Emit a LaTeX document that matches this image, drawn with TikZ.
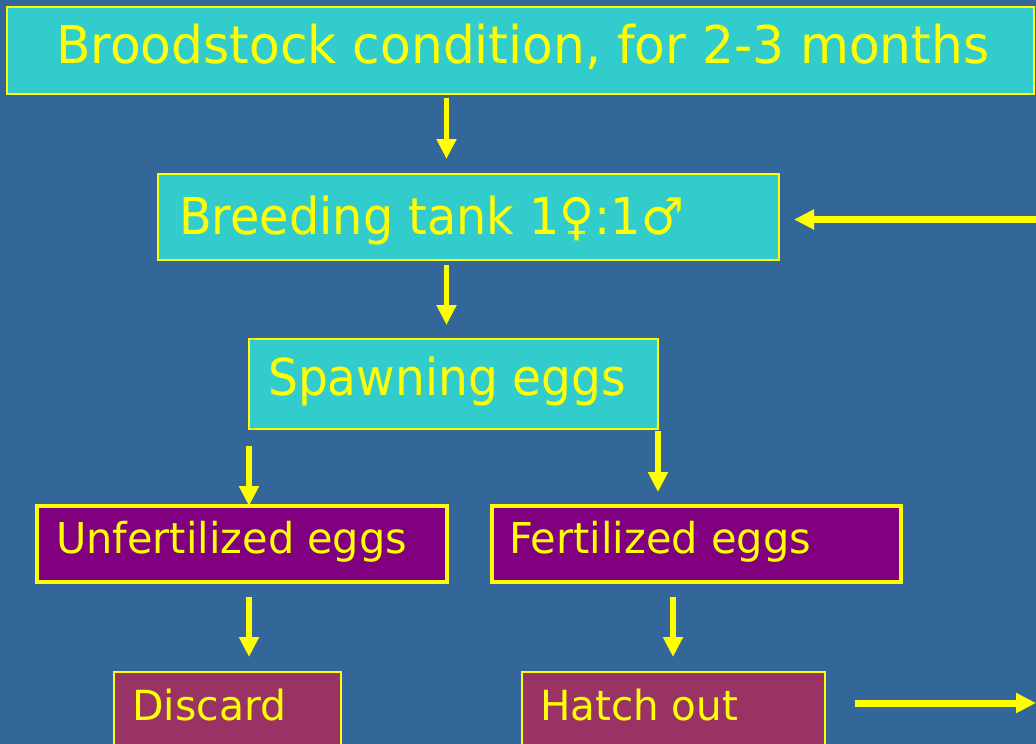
\documentclass[tikz,border=0pt]{standalone}
\usepackage{fontspec}
\setmainfont{DejaVu Sans}
\usepackage{graphicx}
\usetikzlibrary{arrows.meta}
\definecolor{bgblue}{HTML}{336699}
\definecolor{cyanbox}{HTML}{33CCCC}
\definecolor{purplebox}{HTML}{800080}
\definecolor{winebox}{HTML}{993366}
\definecolor{yel}{HTML}{FFFF00}
\newcommand{\fittext}[3]{\resizebox{#1}{\height}{\fontsize{#2pt}{#2pt}\selectfont #3}}
\begin{document}
\begin{tikzpicture}[x=1pt,y=-1pt,
  boxshape/.style={draw=yel, line width=2.5pt, inner sep=0pt, outer sep=0pt, anchor=north west},
  cyanfill/.style={boxshape, fill=cyanbox},
  purplefill/.style={boxshape, line width=4pt, fill=purplebox},
  winefill/.style={boxshape, fill=winebox},
  label text/.style={text=yel, inner sep=0pt, anchor=base west},
  arr/.style={draw=yel, line width=5.5pt, -{Triangle[length=20pt 0 0,width=19pt 0 0]}}]
\clip (0,0) rectangle (1036,744);
\useasboundingbox (0,0) rectangle (1036,744);
\fill[bgblue] (0,0) rectangle (1036,744);

% boxes
\node[cyanfill, minimum width=1027pt, minimum height=87pt] (b1) at (7,7) {};
\node[cyanfill, minimum width=621pt, minimum height=86pt] (b2) at (158,174) {};
\node[cyanfill, minimum width=409pt, minimum height=90pt] (b3) at (249,339) {};
\node[purplefill, minimum width=410pt, minimum height=76pt] (b4) at (37,506) {};
\node[purplefill, minimum width=409pt, minimum height=76pt] (b5) at (492,506) {};
\node[winefill, minimum width=227pt, minimum height=90pt] (b6) at (114,672) {};
\node[winefill, minimum width=303pt, minimum height=90pt] (b7) at (522,672) {};

% texts
\node[label text] (t1) at (56,63) {\fittext{933pt}{52}{Broodstock condition, for 2-3 months}};
\node[label text] (t2) at (179,234) {\fittext{505pt}{50.8}{Breeding tank 1♀:1♂}};
\node[label text] (t3) at (268,395) {\fittext{358pt}{50.8}{Spawning eggs}};
\node[label text] (t4) at (56,553) {\fittext{351pt}{42.5}{Unfertilized eggs}};
\node[label text] (t5) at (509,553) {\fittext{302pt}{42.5}{Fertilized eggs}};
\node[label text] (t6) at (132,720) {\fittext{154pt}{41.5}{Discard}};
\node[label text] (t7) at (540,720) {\fittext{198pt}{41.5}{Hatch out}};

% guide coordinates
\coordinate (xa) at (446.5,0);
\coordinate (xl) at (249,0);
\coordinate (xr) at (658,0);
\coordinate (xh) at (673,0);
\coordinate (inR) at (1037,219.5);
\coordinate (outR) at (1036,703);

% connectors
\draw[arr, shorten <=4pt, shorten >=15pt] (b1.south -| xa) -- (b2.north -| xa);
\draw[arr, shorten <=5pt, shorten >=14pt] (b2.south -| xa) -- (b3.north -| xa);
\draw[arr, shorten <=17pt, shorten >=0pt] (b3.south -| xl) -- (b4.north -| xl);
\draw[arr, shorten <=2pt, shorten >=14pt] (b3.south -| xr) -- (b5.north -| xr);
\draw[arr, shorten <=15pt, shorten >=15pt] (b4.south -| xl) -- (b6.north -| xl);
\draw[arr, shorten <=15pt, shorten >=15pt] (b5.south -| xh) -- (b7.north -| xh);
\draw[arr, line width=7pt, shorten >=15pt] (inR) -- (inR -| b2.east);
\draw[arr, line width=7pt, shorten <=30pt] (b7.east |- outR) -- (outR);
\end{tikzpicture}
\end{document}
